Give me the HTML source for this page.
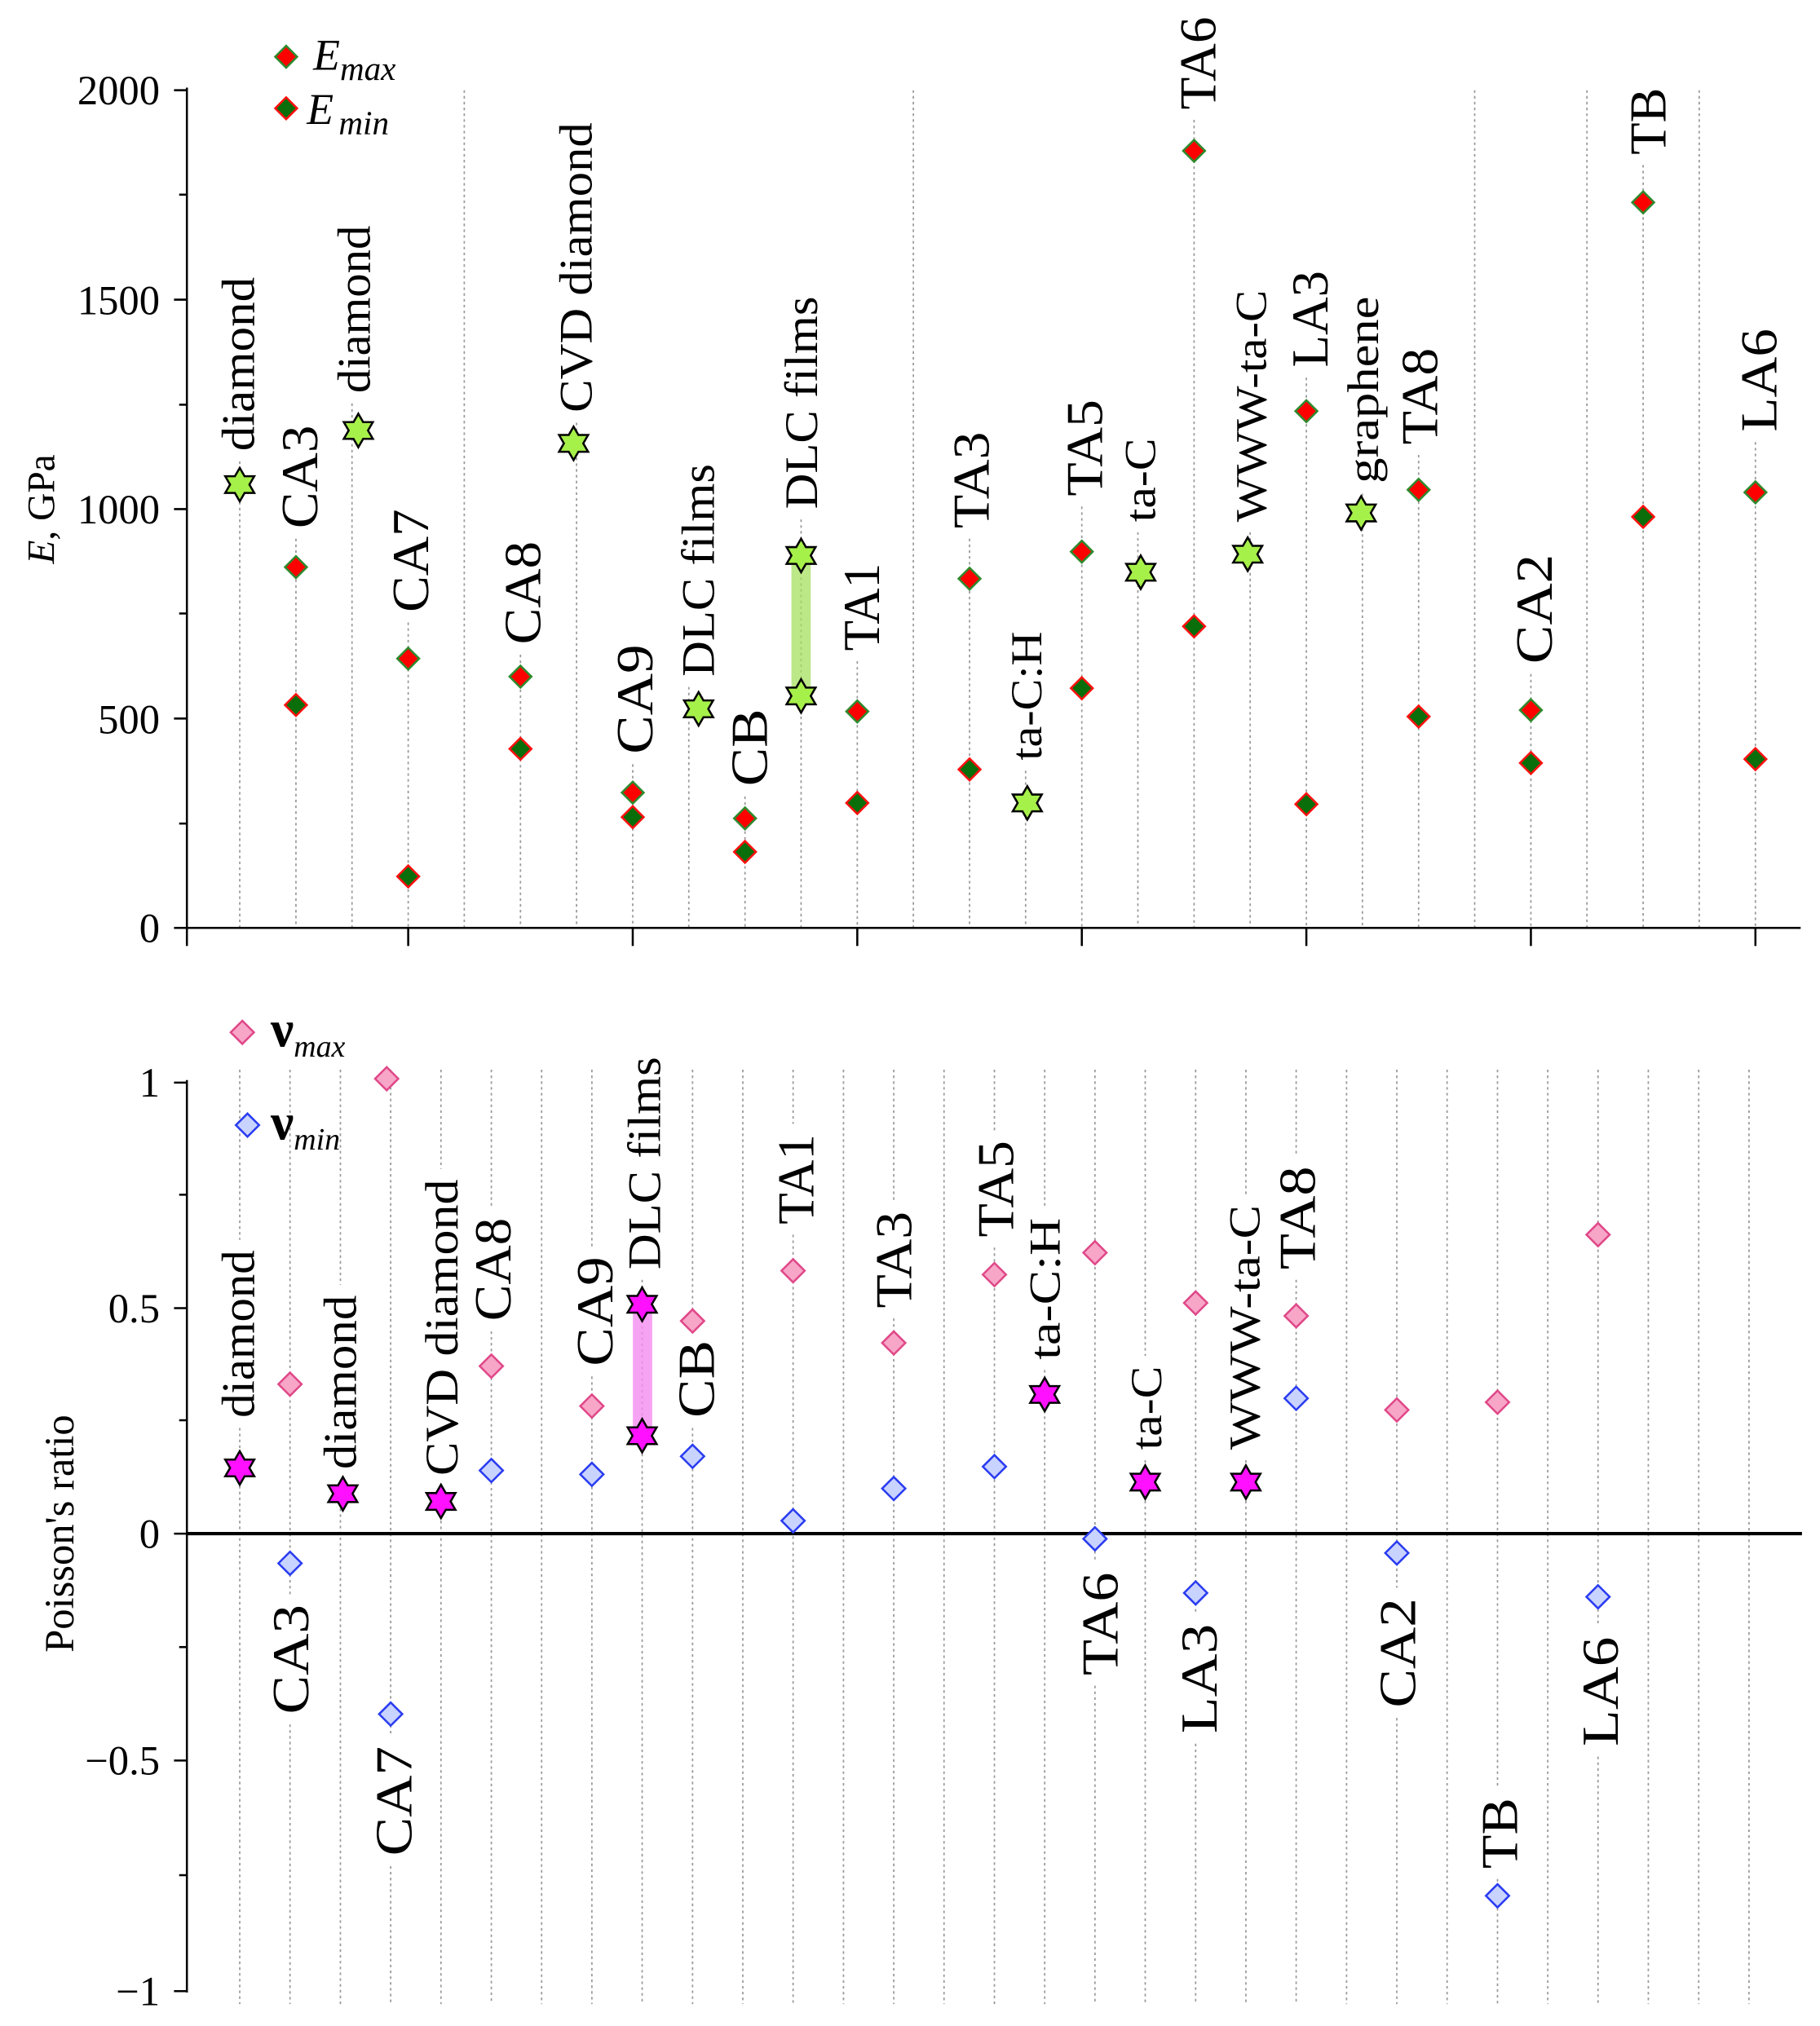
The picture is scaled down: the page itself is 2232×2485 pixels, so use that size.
<!DOCTYPE html>
<html><head><meta charset="utf-8"><style>html,body{margin:0;padding:0;background:#fff}svg{display:block}</style></head>
<body>
<svg xmlns="http://www.w3.org/2000/svg" width="2232" height="2485" viewBox="0 0 1412 1572" font-family="'Liberation Serif', serif">
<defs>
<polygon id="dR" points="0,-8.5 8.5,0 0,8.5 -8.5,0" fill="#ff0000" stroke="#2e8b2e" stroke-width="1.6"/>
<polygon id="dG" points="0,-8.5 8.5,0 0,8.5 -8.5,0" fill="#0a6e0a" stroke="#ff1010" stroke-width="1.6"/>
<polygon id="dP" points="0,-9 9,0 0,9 -9,0" fill="#f7a6c8" stroke="#e04888" stroke-width="1.6"/>
<polygon id="dB" points="0,-9 9,0 0,9 -9,0" fill="#c9d3ff" stroke="#2a3cf0" stroke-width="1.6"/>
<polygon id="sL" points="0,-13 3.75,-6.5 11.26,-6.5 7.5,0 11.26,6.5 3.75,6.5 0,13 -3.75,6.5 -11.26,6.5 -7.5,0 -11.26,-6.5 -3.75,-6.5" fill="#a6f04a" stroke="#000" stroke-width="1.6"/>
<polygon id="sM" points="0,-13 3.75,-6.5 11.26,-6.5 7.5,0 11.26,6.5 3.75,6.5 0,13 -3.75,6.5 -11.26,6.5 -7.5,0 -11.26,-6.5 -3.75,-6.5" fill="#ff10ff" stroke="#000" stroke-width="1.6"/>
</defs>

<!-- ===== TOP CHART ===== -->
<g stroke="#999" stroke-width="1.1" stroke-dasharray="2 2.5" fill="none">
<line x1="186" y1="358" x2="186" y2="720"/>
<line x1="229.6" y1="418" x2="229.6" y2="720"/>
<line x1="273.1" y1="313" x2="273.1" y2="720"/>
<line x1="316.7" y1="483" x2="316.7" y2="720"/>
<line x1="360.2" y1="70" x2="360.2" y2="720"/>
<line x1="403.8" y1="508" x2="403.8" y2="720"/>
<line x1="447.3" y1="328" x2="447.3" y2="720"/>
<line x1="490.9" y1="593" x2="490.9" y2="720"/>
<line x1="534.4" y1="533" x2="534.4" y2="720"/>
<line x1="578" y1="618" x2="578" y2="720"/>
<line x1="621.5" y1="403" x2="621.5" y2="720"/>
<line x1="665.1" y1="513" x2="665.1" y2="720"/>
<line x1="708.6" y1="70" x2="708.6" y2="720"/>
<line x1="752.2" y1="418" x2="752.2" y2="720"/>
<line x1="795.7" y1="598" x2="795.7" y2="720"/>
<line x1="839.3" y1="393" x2="839.3" y2="720"/>
<line x1="882.8" y1="413" x2="882.8" y2="720"/>
<line x1="926.4" y1="93" x2="926.4" y2="720"/>
<line x1="969.9" y1="413" x2="969.9" y2="720"/>
<line x1="1013.5" y1="293" x2="1013.5" y2="720"/>
<line x1="1057" y1="383" x2="1057" y2="720"/>
<line x1="1100.6" y1="353" x2="1100.6" y2="720"/>
<line x1="1144.1" y1="70" x2="1144.1" y2="720"/>
<line x1="1187.7" y1="523" x2="1187.7" y2="720"/>
<line x1="1231.2" y1="70" x2="1231.2" y2="720"/>
<line x1="1274.8" y1="128" x2="1274.8" y2="720"/>
<line x1="1318.3" y1="70" x2="1318.3" y2="720"/>
<line x1="1361.9" y1="343" x2="1361.9" y2="720"/>
</g>
<g stroke="#000" stroke-width="1.6">
<line x1="145" y1="68" x2="145" y2="721"/>
<line x1="145" y1="720" x2="1397" y2="720"/>
<line x1="135" y1="70" x2="145" y2="70"/>
<line x1="135" y1="232.5" x2="145" y2="232.5"/>
<line x1="135" y1="395" x2="145" y2="395"/>
<line x1="135" y1="557.5" x2="145" y2="557.5"/>
<line x1="135" y1="720" x2="145" y2="720"/>
<line x1="139" y1="151" x2="145" y2="151"/>
<line x1="139" y1="314" x2="145" y2="314"/>
<line x1="139" y1="476" x2="145" y2="476"/>
<line x1="139" y1="639" x2="145" y2="639"/>
<line x1="145" y1="720" x2="145" y2="734"/>
<line x1="316.7" y1="720" x2="316.7" y2="734"/>
<line x1="490.9" y1="720" x2="490.9" y2="734"/>
<line x1="665.1" y1="720" x2="665.1" y2="734"/>
<line x1="839.3" y1="720" x2="839.3" y2="734"/>
<line x1="1013.5" y1="720" x2="1013.5" y2="734"/>
<line x1="1187.7" y1="720" x2="1187.7" y2="734"/>
<line x1="1361.9" y1="720" x2="1361.9" y2="734"/>
</g>
<g font-size="32" text-anchor="end" fill="#000">
<text x="124" y="81">2000</text>
<text x="124" y="244">1500</text>
<text x="124" y="406">1000</text>
<text x="124" y="569">500</text>
<text x="124" y="731">0</text>
</g>
<text transform="translate(42,395) rotate(-90)" font-size="30" text-anchor="middle"><tspan font-style="italic">E</tspan>, GPa</text>
<use href="#dR" x="222" y="44"/>
<text x="243" y="54" font-size="34" font-style="italic">E<tspan font-size="26" dy="8">max</tspan></text>
<use href="#dG" x="222" y="84"/>
<text x="238" y="96" font-size="34" font-style="italic">E<tspan font-size="26" dy="8" dx="4">min</tspan></text>
<rect x="614" y="431" width="15" height="110" fill="#a6e060" opacity="0.75"/>
<use href="#sL" x="186" y="376"/>
<use href="#dR" x="229.6" y="440"/><use href="#dG" x="229.6" y="547"/>
<use href="#sL" x="278" y="334"/>
<use href="#dR" x="316.7" y="511"/><use href="#dG" x="316.7" y="680"/>
<use href="#dR" x="403.8" y="525"/><use href="#dG" x="403.8" y="581"/>
<use href="#sL" x="445" y="344"/>
<use href="#dR" x="490.9" y="615"/><use href="#dG" x="490.9" y="634"/>
<use href="#sL" x="542" y="550"/>
<use href="#dR" x="578" y="635"/><use href="#dG" x="578" y="661"/>
<use href="#sL" x="621.5" y="431"/><use href="#sL" x="621.5" y="540"/>
<use href="#dR" x="665.1" y="552"/><use href="#dG" x="665.1" y="623"/>
<use href="#dR" x="752.2" y="449"/><use href="#dG" x="752.2" y="597"/>
<use href="#sL" x="797" y="623"/>
<use href="#dR" x="839.3" y="428"/><use href="#dG" x="839.3" y="534"/>
<use href="#sL" x="885" y="444"/>
<use href="#dR" x="926.4" y="117"/><use href="#dG" x="926.4" y="486"/>
<use href="#sL" x="968" y="430"/>
<use href="#dR" x="1013.5" y="319"/><use href="#dG" x="1013.5" y="624"/>
<use href="#sL" x="1056" y="398"/>
<use href="#dR" x="1100.6" y="380"/><use href="#dG" x="1100.6" y="556"/>
<use href="#dR" x="1187.7" y="551"/><use href="#dG" x="1187.7" y="592"/>
<use href="#dR" x="1274.8" y="157"/><use href="#dG" x="1274.8" y="401"/>
<use href="#dR" x="1361.9" y="382"/><use href="#dG" x="1361.9" y="589"/>
<g font-size="40" fill="#000">
<text transform="translate(197,350) rotate(-90)" font-size="36" textLength="135" lengthAdjust="spacingAndGlyphs">diamond</text>
<text transform="translate(246,410) rotate(-90)" textLength="80" lengthAdjust="spacingAndGlyphs">CA3</text>
<text transform="translate(287,305) rotate(-90)" font-size="36" textLength="130" lengthAdjust="spacingAndGlyphs">diamond</text>
<text transform="translate(332,475) rotate(-90)" textLength="80" lengthAdjust="spacingAndGlyphs">CA7</text>
<text transform="translate(419,500) rotate(-90)" textLength="80" lengthAdjust="spacingAndGlyphs">CA8</text>
<text transform="translate(459,320) rotate(-90)" font-size="36" textLength="225" lengthAdjust="spacingAndGlyphs">CVD diamond</text>
<text transform="translate(506,585) rotate(-90)" textLength="85" lengthAdjust="spacingAndGlyphs">CA9</text>
<text transform="translate(554,525) rotate(-90)" font-size="36" textLength="165" lengthAdjust="spacingAndGlyphs">DLC films</text>
<text transform="translate(595,610) rotate(-90)" textLength="60" lengthAdjust="spacingAndGlyphs">CB</text>
<text transform="translate(634,395) rotate(-90)" font-size="36" textLength="165" lengthAdjust="spacingAndGlyphs">DLC films</text>
<text transform="translate(682,505) rotate(-90)" textLength="68" lengthAdjust="spacingAndGlyphs">TA1</text>
<text transform="translate(767,410) rotate(-90)" textLength="75" lengthAdjust="spacingAndGlyphs">TA3</text>
<text transform="translate(808,590) rotate(-90)" font-size="34" textLength="100" lengthAdjust="spacingAndGlyphs">ta-C:H</text>
<text transform="translate(855,385) rotate(-90)" textLength="75" lengthAdjust="spacingAndGlyphs">TA5</text>
<text transform="translate(896,405) rotate(-90)" font-size="34" textLength="65" lengthAdjust="spacingAndGlyphs">ta-C</text>
<text transform="translate(943,85) rotate(-90)" textLength="72" lengthAdjust="spacingAndGlyphs">TA6</text>
<text transform="translate(982,405) rotate(-90)" font-size="34" textLength="180" lengthAdjust="spacingAndGlyphs">WWW-ta-C</text>
<text transform="translate(1030,285) rotate(-90)" textLength="75" lengthAdjust="spacingAndGlyphs">LA3</text>
<text transform="translate(1069,375) rotate(-90)" font-size="34" textLength="145" lengthAdjust="spacingAndGlyphs">graphene</text>
<text transform="translate(1115,345) rotate(-90)" textLength="75" lengthAdjust="spacingAndGlyphs">TA8</text>
<text transform="translate(1204,515) rotate(-90)" textLength="85" lengthAdjust="spacingAndGlyphs">CA2</text>
<text transform="translate(1292,120) rotate(-90)" textLength="52" lengthAdjust="spacingAndGlyphs">TB</text>
<text transform="translate(1378,335) rotate(-90)" textLength="80" lengthAdjust="spacingAndGlyphs">LA6</text>
</g>

<!-- ===== BOTTOM CHART ===== -->
<g stroke="#999" stroke-width="1.1" stroke-dasharray="2 2.5" fill="none">
<line x1="186" y1="830" x2="186" y2="962"/><line x1="186" y1="1108" x2="186" y2="1555"/>
<line x1="225" y1="830" x2="225" y2="1237"/><line x1="225" y1="1338" x2="225" y2="1555"/>
<line x1="264.1" y1="830" x2="264.1" y2="997"/><line x1="264.1" y1="1148" x2="264.1" y2="1555"/>
<line x1="303.1" y1="830" x2="303.1" y2="1347"/><line x1="303.1" y1="1448" x2="303.1" y2="1555"/>
<line x1="342.1" y1="830" x2="342.1" y2="907"/><line x1="342.1" y1="1153" x2="342.1" y2="1555"/>
<line x1="381.2" y1="830" x2="381.2" y2="937"/><line x1="381.2" y1="1033" x2="381.2" y2="1555"/>
<line x1="420.2" y1="830" x2="420.2" y2="1555"/>
<line x1="459.2" y1="830" x2="459.2" y2="967"/><line x1="459.2" y1="1068" x2="459.2" y2="1555"/>
<line x1="498.2" y1="993" x2="498.2" y2="1555"/>
<line x1="537.3" y1="830" x2="537.3" y2="1032"/><line x1="537.3" y1="1108" x2="537.3" y2="1555"/>
<line x1="576.3" y1="830" x2="576.3" y2="1555"/>
<line x1="615.3" y1="830" x2="615.3" y2="872"/><line x1="615.3" y1="958" x2="615.3" y2="1555"/>
<line x1="654.4" y1="830" x2="654.4" y2="1555"/>
<line x1="693.4" y1="830" x2="693.4" y2="932"/><line x1="693.4" y1="1023" x2="693.4" y2="1555"/>
<line x1="732.4" y1="830" x2="732.4" y2="1555"/>
<line x1="771.5" y1="830" x2="771.5" y2="877"/><line x1="771.5" y1="968" x2="771.5" y2="1555"/>
<line x1="810.5" y1="830" x2="810.5" y2="937"/><line x1="810.5" y1="1063" x2="810.5" y2="1555"/>
<line x1="849.5" y1="830" x2="849.5" y2="1212"/><line x1="849.5" y1="1308" x2="849.5" y2="1555"/>
<line x1="888.5" y1="830" x2="888.5" y2="1052"/><line x1="888.5" y1="1133" x2="888.5" y2="1555"/>
<line x1="927.6" y1="830" x2="927.6" y2="1252"/><line x1="927.6" y1="1353" x2="927.6" y2="1555"/>
<line x1="966.6" y1="830" x2="966.6" y2="927"/><line x1="966.6" y1="1133" x2="966.6" y2="1555"/>
<line x1="1005.6" y1="830" x2="1005.6" y2="897"/><line x1="1005.6" y1="993" x2="1005.6" y2="1555"/>
<line x1="1044.7" y1="830" x2="1044.7" y2="1555"/>
<line x1="1083.7" y1="830" x2="1083.7" y2="1232"/><line x1="1083.7" y1="1333" x2="1083.7" y2="1555"/>
<line x1="1122.7" y1="830" x2="1122.7" y2="1555"/>
<line x1="1161.8" y1="830" x2="1161.8" y2="1387"/><line x1="1161.8" y1="1458" x2="1161.8" y2="1555"/>
<line x1="1200.8" y1="830" x2="1200.8" y2="1555"/>
<line x1="1239.8" y1="830" x2="1239.8" y2="1262"/><line x1="1239.8" y1="1363" x2="1239.8" y2="1555"/>
<line x1="1278.8" y1="830" x2="1278.8" y2="1555"/>
<line x1="1317.9" y1="830" x2="1317.9" y2="1555"/>
<line x1="1356.9" y1="830" x2="1356.9" y2="1555"/>
</g>
<g stroke="#000" stroke-width="1.6">
<line x1="145" y1="838" x2="145" y2="1546"/>
<line x1="135" y1="840" x2="145" y2="840"/>
<line x1="135" y1="1015" x2="145" y2="1015"/>
<line x1="135" y1="1190" x2="145" y2="1190"/>
<line x1="135" y1="1366" x2="145" y2="1366"/>
<line x1="135" y1="1545" x2="145" y2="1545"/>
<line x1="139" y1="927" x2="145" y2="927"/>
<line x1="139" y1="1102" x2="145" y2="1102"/>
<line x1="139" y1="1278" x2="145" y2="1278"/>
<line x1="139" y1="1455" x2="145" y2="1455"/>
</g>
<line x1="145" y1="1190" x2="1398" y2="1190" stroke="#000" stroke-width="2.6"/>
<g font-size="32" text-anchor="end" fill="#000">
<text x="124" y="851">1</text>
<text x="124" y="1026">0.5</text>
<text x="124" y="1201">0</text>
<text x="124" y="1377">−0.5</text>
<text x="124" y="1556">−1</text>
</g>
<text transform="translate(57,1190) rotate(-90)" font-size="32" text-anchor="middle">Poisson's ratio</text>
<use href="#dP" x="188" y="801"/>
<text x="210" y="812" font-size="40" font-weight="bold">ν<tspan font-size="24" font-weight="normal" font-style="italic" dy="8">max</tspan></text>
<use href="#dB" x="192" y="873"/>
<text x="210" y="884" font-size="40" font-weight="bold">ν<tspan font-size="24" font-weight="normal" font-style="italic" dy="8">min</tspan></text>
<rect x="491" y="1012" width="15" height="102" fill="#f58cf0" opacity="0.8"/>
<use href="#sM" x="186" y="1139"/>
<use href="#dP" x="225" y="1074"/><use href="#dB" x="225" y="1213"/>
<use href="#sM" x="266" y="1159"/>
<use href="#dP" x="300" y="837"/><use href="#dB" x="303.1" y="1330"/>
<use href="#sM" x="342.1" y="1165"/>
<use href="#dP" x="381.2" y="1060"/><use href="#dB" x="381.2" y="1141"/>
<use href="#dP" x="459.2" y="1091"/><use href="#dB" x="459.2" y="1144"/>
<use href="#sM" x="498.2" y="1012"/><use href="#sM" x="498.2" y="1114"/>
<use href="#dP" x="537.3" y="1025"/><use href="#dB" x="537.3" y="1130"/>
<use href="#dP" x="615.3" y="986"/><use href="#dB" x="615.3" y="1180"/>
<use href="#dP" x="693.4" y="1042"/><use href="#dB" x="693.4" y="1155"/>
<use href="#dP" x="771.5" y="989"/><use href="#dB" x="771.5" y="1138"/>
<use href="#sM" x="810.5" y="1082"/>
<use href="#dP" x="849.5" y="972"/><use href="#dB" x="849.5" y="1194"/>
<use href="#sM" x="888.5" y="1150"/>
<use href="#dP" x="927.6" y="1011"/><use href="#dB" x="927.6" y="1236"/>
<use href="#sM" x="966.6" y="1150"/>
<use href="#dP" x="1005.6" y="1021"/><use href="#dB" x="1005.6" y="1085"/>
<use href="#dP" x="1083.7" y="1094"/><use href="#dB" x="1083.7" y="1205"/>
<use href="#dP" x="1161.8" y="1088"/><use href="#dB" x="1161.8" y="1471"/>
<use href="#dP" x="1239.8" y="958"/><use href="#dB" x="1239.8" y="1239"/>
<g font-size="40" fill="#000">
<text transform="translate(197,1100) rotate(-90)" font-size="36" textLength="130" lengthAdjust="spacingAndGlyphs">diamond</text>
<text transform="translate(239,1330) rotate(-90)" textLength="85" lengthAdjust="spacingAndGlyphs">CA3</text>
<text transform="translate(276,1140) rotate(-90)" font-size="36" textLength="135" lengthAdjust="spacingAndGlyphs">diamond</text>
<text transform="translate(319,1440) rotate(-90)" textLength="85" lengthAdjust="spacingAndGlyphs">CA7</text>
<text transform="translate(355,1145) rotate(-90)" font-size="36" textLength="230" lengthAdjust="spacingAndGlyphs">CVD diamond</text>
<text transform="translate(396,1025) rotate(-90)" textLength="80" lengthAdjust="spacingAndGlyphs">CA8</text>
<text transform="translate(475,1060) rotate(-90)" textLength="85" lengthAdjust="spacingAndGlyphs">CA9</text>
<text transform="translate(512,985) rotate(-90)" font-size="36" textLength="165" lengthAdjust="spacingAndGlyphs">DLC films</text>
<text transform="translate(554,1100) rotate(-90)" textLength="60" lengthAdjust="spacingAndGlyphs">CB</text>
<text transform="translate(631,950) rotate(-90)" textLength="70" lengthAdjust="spacingAndGlyphs">TA1</text>
<text transform="translate(707,1015) rotate(-90)" textLength="75" lengthAdjust="spacingAndGlyphs">TA3</text>
<text transform="translate(786,960) rotate(-90)" textLength="75" lengthAdjust="spacingAndGlyphs">TA5</text>
<text transform="translate(822,1055) rotate(-90)" font-size="34" textLength="110" lengthAdjust="spacingAndGlyphs">ta-C:H</text>
<text transform="translate(867,1300) rotate(-90)" textLength="80" lengthAdjust="spacingAndGlyphs">TA6</text>
<text transform="translate(901,1125) rotate(-90)" font-size="34" textLength="65" lengthAdjust="spacingAndGlyphs">ta-C</text>
<text transform="translate(944,1345) rotate(-90)" textLength="85" lengthAdjust="spacingAndGlyphs">LA3</text>
<text transform="translate(977,1125) rotate(-90)" font-size="34" textLength="190" lengthAdjust="spacingAndGlyphs">WWW-ta-C</text>
<text transform="translate(1020,985) rotate(-90)" textLength="80" lengthAdjust="spacingAndGlyphs">TA8</text>
<text transform="translate(1098,1325) rotate(-90)" textLength="85" lengthAdjust="spacingAndGlyphs">CA2</text>
<text transform="translate(1177,1450) rotate(-90)" textLength="55" lengthAdjust="spacingAndGlyphs">TB</text>
<text transform="translate(1255,1355) rotate(-90)" textLength="85" lengthAdjust="spacingAndGlyphs">LA6</text>
</g>
</svg>
</body></html>
